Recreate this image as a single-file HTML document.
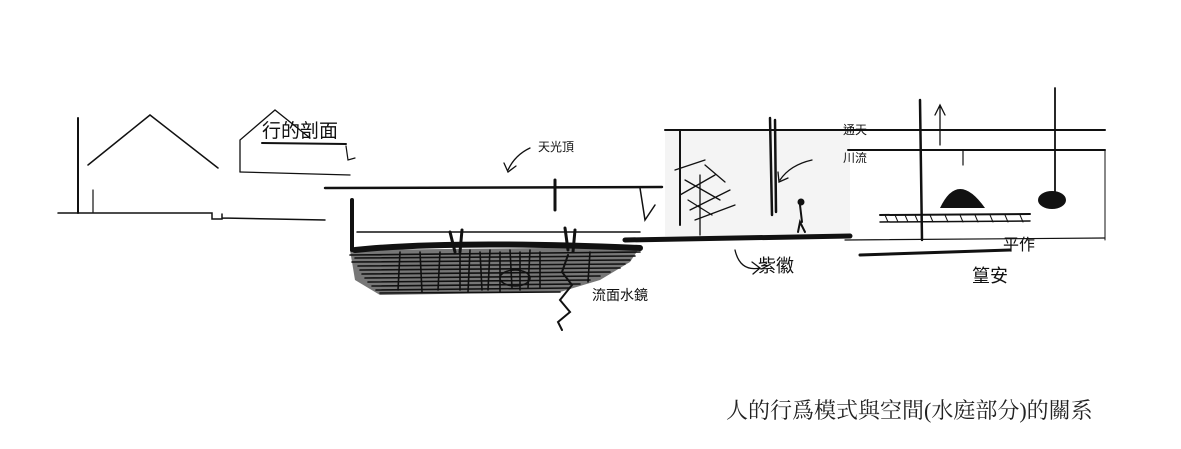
<!DOCTYPE html>
<html><head><meta charset="utf-8"><style>
html,body{margin:0;padding:0;background:#fff;width:1181px;height:449px;overflow:hidden}
svg{display:block}
.cap{position:absolute;left:726px;top:394px;font-family:"Liberation Serif","Noto Serif CJK SC",serif;font-size:22px;color:#222;white-space:nowrap}
</style></head><body>
<svg width="1181" height="449" xmlns="http://www.w3.org/2000/svg">
<rect x="665" y="131" width="185" height="105" fill="#f4f4f4"/>
<path d="M350 250 L640 247 L630 262 L600 280 L560 292 L380 295 L355 280 Z" fill="#777"/>
<g stroke="#111" fill="none" stroke-linecap="round">
<path d="M78 118 L78 213" stroke-width="2"/>
<path d="M88 165 L150 115 L218 168" stroke-width="1.5"/>
<path d="M93 190 L93 212" stroke-width="1.2"/>
<path d="M58 213 L212 213 L212 219 L222 219 L222 214 M222 218 L325 220" stroke-width="1.5"/>
<path d="M240 172 L240 140 L275 110 L310 138" stroke-width="1.3"/>
<path d="M262 143 L346 144" stroke-width="2"/>
<path d="M346 146 L348 160 L355 158" stroke-width="1.2"/>
<path d="M240 172 L350 175" stroke-width="1.3"/>
<path d="M325 188 L662 187" stroke-width="2.5"/>
<path d="M555 180 L555 210" stroke-width="3"/>
<path d="M640 188 L645 220 L655 205" stroke-width="1.5"/>
<path d="M352 200 L352 250" stroke-width="4"/>
<path d="M357 232 L640 232" stroke-width="1.5"/>
<path d="M450 232 L455 252 M462 230 L460 252 M565 228 L568 250 M575 230 L573 252" stroke-width="3"/>
<path d="M530 148 Q515 155 508 170 M504 163 L508 172 L516 166" stroke-width="1.3"/>
<g stroke-width="1.6">
<path d="M350 255 L640 252 M352 262 L630 260 M360 270 L620 268 M365 278 L600 276 M372 286 L580 284 M380 293 L560 292 M355 258 L635 256 M358 266 L625 264 M362 274 L610 272 M368 282 L590 280 M376 290 L570 288"/>
<path d="M355 250 Q450 240 640 248" stroke-width="6"/>
<path d="M460 250 L460 290 M470 250 L468 292 M480 252 L482 290 M490 250 L488 290 M500 252 L500 292 M510 250 L512 288 M520 252 L520 290 M530 250 L528 288 M540 252 L540 288 M400 252 L398 290 M420 252 L422 292 M440 252 L438 290 M590 252 L588 282"/>
<ellipse cx="515" cy="278" rx="15" ry="8"/>
<path d="M568 255 L562 272 L572 285 L560 300 L570 312 L558 322 L562 330" stroke-width="2"/>
</g>
<path d="M665 130 L1105 130" stroke-width="2"/>
<path d="M680 130 L680 225" stroke-width="2"/>
<path d="M770 118 L772 215 M775 120 L776 212" stroke-width="2.5"/>
<path d="M625 240 L850 236" stroke-width="5"/>
<path d="M800 205 L802 222 M798 232 L800 222 L805 232" stroke-width="2"/>
<circle cx="801" cy="202" r="3" fill="#111"/>
<g stroke-width="1.3"><path d="M700 235 L700 175 M685 180 L720 200 M680 195 L715 175 M690 210 L730 190 M675 170 L705 160 M695 220 L735 205 M688 200 L712 215 M705 165 L725 182"/></g>
<path d="M735 250 Q740 272 760 268 M752 262 L760 268 L753 274" stroke-width="1.3"/>
<path d="M812 160 Q790 165 780 180 M778 172 L779 182 L788 178" stroke-width="1.3"/>
<path d="M848 150 L1105 150" stroke-width="2"/>
<path d="M920 100 L922 240" stroke-width="2.5"/>
<path d="M940 145 L940 105 M935 115 L940 105 L945 115" stroke-width="1.3"/>
<path d="M1055 88 L1055 195" stroke-width="1.8"/>
<path d="M963 150 L963 165" stroke-width="1.2"/>
<path d="M880 215 L1030 214" stroke-width="2"/>
<path d="M880 222 L1030 221" stroke-width="1.5"/>
<path d="M885 215 L888 222 M895 215 L898 222 M905 215 L908 222 M915 215 L918 222 M930 215 L933 222 M945 215 L948 222 M960 215 L963 222 M975 215 L978 222 M990 215 L993 222 M1005 215 L1008 222 M1020 215 L1023 222" stroke-width="1"/>
<path d="M860 255 L1010 250" stroke-width="3"/>
<path d="M845 240 L1105 238" stroke-width="1.2"/>
<path d="M1105 150 L1105 240" stroke-width="1"/>
</g>
<path d="M940 208 Q958 170 985 208 Z" fill="#111"/>
<ellipse cx="1052" cy="200" rx="14" ry="9" fill="#111"/>
<g font-family="Liberation Sans,'Noto Sans CJK TC',sans-serif" fill="#111">
<text x="262" y="137" font-size="19">行的剖面</text>
<text x="538" y="151" font-size="12">天光頂</text>
<text x="758" y="272" font-size="18">紫徽</text>
<text x="843" y="134" font-size="12">通天</text>
<text x="843" y="162" font-size="12">川流</text>
<text x="592" y="300" font-size="14">流面水鏡</text>
<text x="1003" y="250" font-size="16">平作</text>
<text x="972" y="282" font-size="18">篁安</text>
</g>
</svg>
<div class="cap">人的行爲模式與空間(水庭部分)的關系</div>
</body></html>
